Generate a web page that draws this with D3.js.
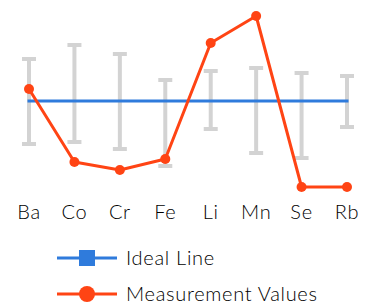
<!DOCTYPE html>
<html>
<head>
<meta charset="utf-8">
<script src="https://cdn.jsdelivr.net/npm/d3@7"></script>
<style>
  html, body { margin: 0; padding: 0; background: #fff; }
  svg { display: block; font-family: "Lato", "DejaVu Sans", sans-serif; }
</style>
</head>
<body>
<svg width="372" height="307"></svg>
<script>
const elements = ["Ba", "Co", "Cr", "Fe", "Li", "Mn", "Se", "Rb"];
const idealValues = [100, 100, 100, 100, 100, 100, 100, 100];
const measuredValues = [112, 39, 31, 42, 158, 185, 14, 14];
const errorLow = [57, 59, 52, 35, 72, 48, 43, 74];
const errorHigh = [142, 156, 147, 121, 130, 133, 128, 125];
const seriesNames = ["Ideal Line", "Measurement Values"];

const BLUE = "#2f7bdc";
const RED = "#ff4414";
const GRAY = "#d3d3d3";

const main = function() {
  const svg = d3.select("svg");

  const x = d3
    .scalePoint()
    .domain(elements)
    .range([29, 347]);
  const y = d3
    .scaleLinear()
    .domain([0, 200])
    .range([201, 1]);

  // error bars
  const bars = svg
    .append("g")
    .selectAll("g")
    .data(elements)
    .enter()
    .append("g")
    .attr("stroke", GRAY)
    .attr("stroke-width", 4);
  bars
    .append("line")
    .attr("x1", d => x(d))
    .attr("x2", d => x(d))
    .attr("y1", (d, i) => y(errorLow[i]))
    .attr("y2", (d, i) => y(errorHigh[i]));
  bars
    .append("line")
    .attr("x1", d => x(d) - 7)
    .attr("x2", d => x(d) + 7)
    .attr("y1", (d, i) => y(errorLow[i]))
    .attr("y2", (d, i) => y(errorLow[i]));
  bars
    .append("line")
    .attr("x1", d => x(d) - 7)
    .attr("x2", d => x(d) + 7)
    .attr("y1", (d, i) => y(errorHigh[i]))
    .attr("y2", (d, i) => y(errorHigh[i]));

  const line = d3
    .line()
    .x((d, i) => x(elements[i]))
    .y(d => y(d));

  // ideal line
  svg
    .append("path")
    .datum(idealValues)
    .attr("d", line)
    .attr("fill", "none")
    .attr("stroke", BLUE)
    .attr("stroke-width", 3)
    .attr("stroke-linecap", "square");

  // measured line
  svg
    .append("path")
    .datum(measuredValues)
    .attr("d", line)
    .attr("fill", "none")
    .attr("stroke", RED)
    .attr("stroke-width", 3)
    .attr("stroke-linejoin", "round");
  svg
    .append("g")
    .selectAll("circle")
    .data(measuredValues)
    .enter()
    .append("circle")
    .attr("cx", (d, i) => x(elements[i]))
    .attr("cy", d => y(d))
    .attr("r", 5)
    .attr("fill", RED);

  // x labels
  svg
    .append("g")
    .selectAll("text")
    .data(elements)
    .enter()
    .append("text")
    .attr("x", d => x(d))
    .attr("y", 219)
    .attr("text-anchor", "middle")
    .attr("font-size", 20)
    .attr("font-weight", 300)
    .attr("letter-spacing", 0.7)
    .attr("fill", "#000")
    .text(d => d);

  // legend
  const legend = svg
    .append("g")
    .selectAll("g")
    .data(seriesNames)
    .enter()
    .append("g")
    .attr("transform", (d, i) => `translate(57, ${258 + i * 36})`);
  legend
    .append("line")
    .attr("x1", 0)
    .attr("x2", 60)
    .attr("stroke", (d, i) => (i === 0 ? BLUE : RED))
    .attr("stroke-width", 3);
  legend
    .filter((d, i) => i === 0)
    .append("rect")
    .attr("x", 22)
    .attr("y", -8)
    .attr("width", 16)
    .attr("height", 16)
    .attr("fill", BLUE);
  legend
    .filter((d, i) => i === 1)
    .append("circle")
    .attr("cx", 30)
    .attr("r", 8)
    .attr("fill", RED);
  legend
    .append("text")
    .attr("x", 69)
    .attr("y", 7)
    .attr("font-size", 20)
    .attr("font-weight", 300)
    .attr("letter-spacing", 0.7)
    .attr("fill", "#000")
    .text(d => d);
};

window.onload = main;
</script>
</body>
</html>
